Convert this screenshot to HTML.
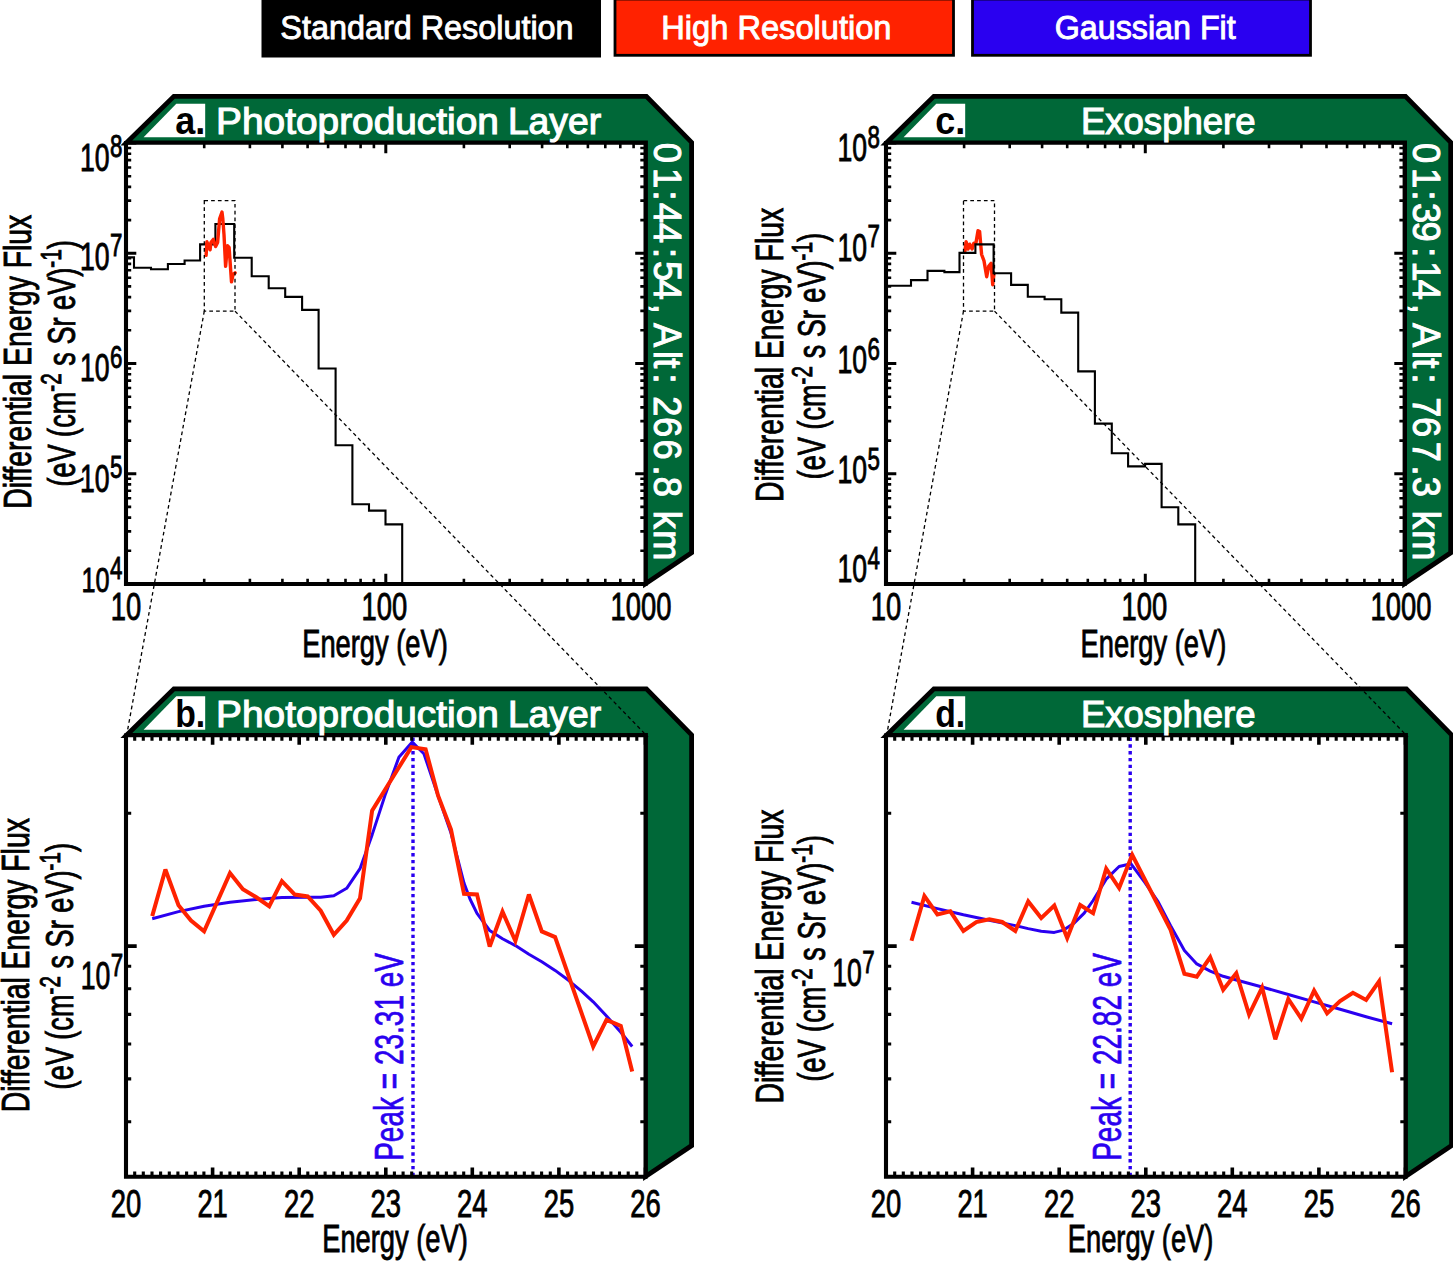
<!DOCTYPE html>
<html><head><meta charset="utf-8"><title>Differential Energy Flux</title>
<style>html,body{margin:0;padding:0;background:#fff}svg{display:block}text{font-family:"Liberation Sans",sans-serif}</style>
</head><body>
<svg width="1453" height="1261" viewBox="0 0 1453 1261">
<rect width="1453" height="1261" fill="#fff"/>
<rect x="261.5" y="-2" width="339.5" height="59.5" fill="#000"/>
<rect x="615" y="-1" width="338.5" height="56.3" fill="#FF2200" stroke="#000" stroke-width="2.8"/>
<rect x="972.5" y="-1" width="338" height="56.3" fill="#2A00F0" stroke="#000" stroke-width="2.8"/>
<text x="280.3" y="38.6" font-size="33" fill="#fff" stroke="#fff" stroke-width="0.9" textLength="293.3" lengthAdjust="spacingAndGlyphs">Standard Resolution</text>
<text x="661.3" y="38.6" font-size="33" fill="#fff" stroke="#fff" stroke-width="0.9" textLength="230.2" lengthAdjust="spacingAndGlyphs">High Resolution</text>
<text x="1054.8" y="38.6" font-size="33" fill="#fff" stroke="#fff" stroke-width="0.9" textLength="180.9" lengthAdjust="spacingAndGlyphs">Gaussian Fit</text>
<polygon points="126.3,143 173.9,96.4 646.4,96.4 691.6,142.4 691.6,552.8 645.5,583.8 645.5,143" fill="#006838" stroke="#000" stroke-width="4.8" stroke-linejoin="miter"/>
<rect x="126" y="143" width="519.5" height="441" fill="#fff"/>
<polygon points="886.3,143 933.9,96.4 1405.5,96.4 1450.7,142.4 1450.7,552.8 1404.6,583.8 1404.6,143" fill="#006838" stroke="#000" stroke-width="4.8" stroke-linejoin="miter"/>
<rect x="886" y="143" width="518.6" height="441" fill="#fff"/>
<polygon points="126.3,735.5 173.9,688.9 646.4,688.9 691.6,734.9 691.6,1145.6 645.5,1176.6 645.5,735.5" fill="#006838" stroke="#000" stroke-width="4.8" stroke-linejoin="miter"/>
<rect x="126" y="735.5" width="519.5" height="441.3" fill="#fff"/>
<polygon points="886.3,735.5 933.9,688.9 1406.4,688.9 1451.6,734.9 1451.6,1145.6 1405.5,1176.6 1405.5,735.5" fill="#006838" stroke="#000" stroke-width="4.8" stroke-linejoin="miter"/>
<rect x="886" y="735.5" width="519.5" height="441.3" fill="#fff"/>
<polyline points="126,257.4 134,257.4 134,267.8 151,267.8 151,269.2 167.9,269.2 167.9,264 184.6,264 184.6,260.5 200.1,260.5 200.1,244.4 215.4,244.4 215.4,224 234.2,224 234.2,257.8 251.7,257.8 251.7,276.2 268.7,276.2 268.7,288.2 285.2,288.2 285.2,296.9 302.1,296.9 302.1,309.9 318.6,309.9 318.6,368.5 335.6,368.5 335.6,445.3 352.4,445.3 352.4,504.2 369,504.2 369,510.6 385.5,510.6 385.5,524.4 402.2,524.4 402.2,584" fill="none" stroke="#000" stroke-width="2.1" stroke-linejoin="miter"/>
<path d="M1340 583.8H1404" stroke="#0d0050" stroke-width="2.6"/>
<polyline points="206.1,255.3 206.9,241.8 210.1,249.8 210.9,242.6 213.3,239.4 215.6,246.6 217.6,242.6 219.6,218.8 222,212.1 222.8,218.8 224,234.7 225.6,266.4 227.5,245.8 229.1,247.4 231.5,281.9 233.1,274.4 235.1,272.8" fill="none" stroke="#FF2200" stroke-width="3.4" stroke-linejoin="round" stroke-linecap="round"/>
<polyline points="964.9,251.3 966.1,241.8 968.1,249 969.7,244.2 972.1,249 973.7,243.4 976,242.6 978,230.7 979.6,231.5 981.6,254.5 984,260.9 986.7,276.7 988.7,266.4 991.1,263.3 992.7,284.7 993.9,274.4" fill="none" stroke="#FF2200" stroke-width="3.4" stroke-linejoin="round" stroke-linecap="round"/>
<polyline points="886,285.7 911,285.7 911,280.1 927.5,280.1 927.5,270.9 944.4,270.9 944.4,272.1 959.5,272.1 959.5,252.9 975.4,252.9 975.4,244.4 993.6,244.4 993.6,273.3 1011.1,273.3 1011.1,284.9 1027.8,284.9 1027.8,296.7 1044.6,296.7 1044.6,299.3 1061.3,299.3 1061.3,312.6 1078.2,312.6 1078.2,371.4 1094.9,371.4 1094.9,423.6 1111.8,423.6 1111.8,453.2 1128.1,453.2 1128.1,466.4 1145.1,466.4 1145.1,463.9 1161.6,463.9 1161.6,507.3 1178.3,507.3 1178.3,524.4 1195.2,524.4 1195.2,583 1212.8,583" fill="none" stroke="#000" stroke-width="2.1" stroke-linejoin="miter"/>
<path d="M413 737.5V1175.8" stroke="#2A00F0" stroke-width="3.4" stroke-dasharray="3.4 3.4" fill="none"/>
<polyline points="152.2,918.7 178.5,911.6 204.1,906.2 230,902.3 256.3,899.4 281.9,897.6 307.7,897.3 320.7,897.3 333.8,895.8 346.7,888.3 360,868.7 372.1,834.9 385.5,793.9 398.9,757.3 412.3,742.1 423.9,753.7 438.1,795.7 451,833.1 464,883.1 470,899 477,913.4 489.7,930.5 502.5,938.7 515.4,945.6 528.9,954.2 541.8,961.8 555.1,970.4 568.5,980.3 581.8,991.3 593.2,1001.8 606.5,1016 620.8,1032.2 632.2,1046.5" fill="none" stroke="#2A00F0" stroke-width="3" stroke-linejoin="round"/>
<polyline points="152.2,916.1 165.4,869.5 178.5,905.3 191,920.5 204.1,931.3 230,873.1 242.9,889.2 256.3,897.3 269.2,906.2 281.9,881.2 294.8,894.6 307.7,896.4 320.7,910.7 333.8,934.8 346.7,920.5 360,898.2 372.1,810.8 411.4,747.1 425.6,749.3 438.1,795.7 451,829.6 464,893.8 477,894.4 489.7,946.5 502.5,911.7 515.4,941 528.9,894.5 541.8,931.4 555.1,937.1 593.2,1046.5 606.5,1019.8 620.8,1025.9 632.2,1071.6" fill="none" stroke="#FF2200" stroke-width="4" stroke-linejoin="miter" stroke-miterlimit="3"/>
<text transform="translate(403.3 1160.8) rotate(-90) scale(0.7 1)" font-size="40" text-anchor="start" fill="#2A00F0" stroke="#2A00F0" stroke-width="0.7" >Peak = 23.31 eV</text>
<path d="M1130.2 737.5V1175.8" stroke="#2A00F0" stroke-width="3.4" stroke-dasharray="3.4 3.4" fill="none"/>
<polyline points="911.5,902.3 937.4,908.6 963.4,914.8 989.3,920.2 1015.3,925.6 1028.2,928.6 1041.2,931.3 1054.3,932.4 1063.6,930.1 1074.3,922.9 1084.2,913.1 1093.1,900.5 1106.2,879.1 1119.1,866.5 1131,863.8 1144.8,882.3 1158.2,901.9 1170.6,925.7 1184.4,950.5 1196.8,963.9 1210.2,971.1 1223.2,976.3 1236.3,980 1262.1,987 1288.3,994.5 1314.1,1001.9 1340.1,1009.3 1366.1,1016.8 1392.1,1023.8" fill="none" stroke="#2A00F0" stroke-width="3" stroke-linejoin="round"/>
<polyline points="911.5,940.8 924.4,896.1 937.4,914.5 950.3,911.3 963.4,931 976.3,922 989.3,919.3 1002.2,922 1015.3,931 1028.2,901.4 1041.2,918.1 1054.3,905.5 1067.2,938.1 1080.2,905 1093.1,913.1 1106.2,868.7 1119.1,888 1132.2,854.9 1170.6,929.8 1184.4,973.8 1196.8,976.7 1210.2,957.3 1223.2,989.7 1236.3,973.2 1249.1,1014.5 1262.1,987.6 1275.3,1039.3 1288.3,999 1301.3,1018.6 1314.1,990.7 1327.1,1013.4 1340.1,1001.1 1352.9,992.8 1366.1,1000 1379.1,981.4 1392.1,1072.3" fill="none" stroke="#FF2200" stroke-width="4" stroke-linejoin="miter" stroke-miterlimit="3"/>
<text transform="translate(1120.5 1160.8) rotate(-90) scale(0.7 1)" font-size="40" text-anchor="start" fill="#2A00F0" stroke="#2A00F0" stroke-width="0.7" >Peak = 22.82 eV</text>
<path d="M126 584v-10.3 M126 143v10.3 M385.8 584v-10.3 M385.8 143v10.3 M645.5 584v-10.3 M645.5 143v10.3 M126 584h10.3 M645.5 584h-10.3 M126 473.8h10.3 M645.5 473.8h-10.3 M126 363.5h10.3 M645.5 363.5h-10.3 M126 253.2h10.3 M645.5 253.2h-10.3 M126 143h10.3 M645.5 143h-10.3" stroke="#000" stroke-width="3" fill="none"/>
<path d="M204.2 584v-5.2 M204.2 143v5.2 M249.9 584v-5.2 M249.9 143v5.2 M282.4 584v-5.2 M282.4 143v5.2 M307.6 584v-5.2 M307.6 143v5.2 M328.1 584v-5.2 M328.1 143v5.2 M345.5 584v-5.2 M345.5 143v5.2 M360.6 584v-5.2 M360.6 143v5.2 M373.9 584v-5.2 M373.9 143v5.2 M463.9 584v-5.2 M463.9 143v5.2 M509.7 584v-5.2 M509.7 143v5.2 M542.1 584v-5.2 M542.1 143v5.2 M567.3 584v-5.2 M567.3 143v5.2 M587.9 584v-5.2 M587.9 143v5.2 M605.3 584v-5.2 M605.3 143v5.2 M620.3 584v-5.2 M620.3 143v5.2 M633.6 584v-5.2 M633.6 143v5.2 M126 550.8h5.2 M645.5 550.8h-5.2 M126 531.4h5.2 M645.5 531.4h-5.2 M126 517.6h5.2 M645.5 517.6h-5.2 M126 506.9h5.2 M645.5 506.9h-5.2 M126 498.2h5.2 M645.5 498.2h-5.2 M126 490.8h5.2 M645.5 490.8h-5.2 M126 484.4h5.2 M645.5 484.4h-5.2 M126 478.8h5.2 M645.5 478.8h-5.2 M126 440.6h5.2 M645.5 440.6h-5.2 M126 421.1h5.2 M645.5 421.1h-5.2 M126 407.4h5.2 M645.5 407.4h-5.2 M126 396.7h5.2 M645.5 396.7h-5.2 M126 388h5.2 M645.5 388h-5.2 M126 380.6h5.2 M645.5 380.6h-5.2 M126 374.2h5.2 M645.5 374.2h-5.2 M126 368.5h5.2 M645.5 368.5h-5.2 M126 330.3h5.2 M645.5 330.3h-5.2 M126 310.9h5.2 M645.5 310.9h-5.2 M126 297.1h5.2 M645.5 297.1h-5.2 M126 286.4h5.2 M645.5 286.4h-5.2 M126 277.7h5.2 M645.5 277.7h-5.2 M126 270.3h5.2 M645.5 270.3h-5.2 M126 263.9h5.2 M645.5 263.9h-5.2 M126 258.3h5.2 M645.5 258.3h-5.2 M126 220.1h5.2 M645.5 220.1h-5.2 M126 200.6h5.2 M645.5 200.6h-5.2 M126 186.9h5.2 M645.5 186.9h-5.2 M126 176.2h5.2 M645.5 176.2h-5.2 M126 167.5h5.2 M645.5 167.5h-5.2 M126 160.1h5.2 M645.5 160.1h-5.2 M126 153.7h5.2 M645.5 153.7h-5.2 M126 148h5.2 M645.5 148h-5.2" stroke="#000" stroke-width="2.6" fill="none"/>
<path d="M886 584v-10.3 M886 143v10.3 M1145.3 584v-10.3 M1145.3 143v10.3 M1404.6 584v-10.3 M1404.6 143v10.3 M886 584h10.3 M1404.6 584h-10.3 M886 473.8h10.3 M1404.6 473.8h-10.3 M886 363.5h10.3 M1404.6 363.5h-10.3 M886 253.2h10.3 M1404.6 253.2h-10.3 M886 143h10.3 M1404.6 143h-10.3" stroke="#000" stroke-width="3" fill="none"/>
<path d="M964.1 584v-5.2 M964.1 143v5.2 M1009.7 584v-5.2 M1009.7 143v5.2 M1042.1 584v-5.2 M1042.1 143v5.2 M1067.2 584v-5.2 M1067.2 143v5.2 M1087.8 584v-5.2 M1087.8 143v5.2 M1105.1 584v-5.2 M1105.1 143v5.2 M1120.2 584v-5.2 M1120.2 143v5.2 M1133.4 584v-5.2 M1133.4 143v5.2 M1223.4 584v-5.2 M1223.4 143v5.2 M1269 584v-5.2 M1269 143v5.2 M1301.4 584v-5.2 M1301.4 143v5.2 M1326.5 584v-5.2 M1326.5 143v5.2 M1347.1 584v-5.2 M1347.1 143v5.2 M1364.4 584v-5.2 M1364.4 143v5.2 M1379.5 584v-5.2 M1379.5 143v5.2 M1392.7 584v-5.2 M1392.7 143v5.2 M886 550.8h5.2 M1404.6 550.8h-5.2 M886 531.4h5.2 M1404.6 531.4h-5.2 M886 517.6h5.2 M1404.6 517.6h-5.2 M886 506.9h5.2 M1404.6 506.9h-5.2 M886 498.2h5.2 M1404.6 498.2h-5.2 M886 490.8h5.2 M1404.6 490.8h-5.2 M886 484.4h5.2 M1404.6 484.4h-5.2 M886 478.8h5.2 M1404.6 478.8h-5.2 M886 440.6h5.2 M1404.6 440.6h-5.2 M886 421.1h5.2 M1404.6 421.1h-5.2 M886 407.4h5.2 M1404.6 407.4h-5.2 M886 396.7h5.2 M1404.6 396.7h-5.2 M886 388h5.2 M1404.6 388h-5.2 M886 380.6h5.2 M1404.6 380.6h-5.2 M886 374.2h5.2 M1404.6 374.2h-5.2 M886 368.5h5.2 M1404.6 368.5h-5.2 M886 330.3h5.2 M1404.6 330.3h-5.2 M886 310.9h5.2 M1404.6 310.9h-5.2 M886 297.1h5.2 M1404.6 297.1h-5.2 M886 286.4h5.2 M1404.6 286.4h-5.2 M886 277.7h5.2 M1404.6 277.7h-5.2 M886 270.3h5.2 M1404.6 270.3h-5.2 M886 263.9h5.2 M1404.6 263.9h-5.2 M886 258.3h5.2 M1404.6 258.3h-5.2 M886 220.1h5.2 M1404.6 220.1h-5.2 M886 200.6h5.2 M1404.6 200.6h-5.2 M886 186.9h5.2 M1404.6 186.9h-5.2 M886 176.2h5.2 M1404.6 176.2h-5.2 M886 167.5h5.2 M1404.6 167.5h-5.2 M886 160.1h5.2 M1404.6 160.1h-5.2 M886 153.7h5.2 M1404.6 153.7h-5.2 M886 148h5.2 M1404.6 148h-5.2" stroke="#000" stroke-width="2.6" fill="none"/>
<path d="M126 1176.8v-9.3 M126 735.5v9.3 M212.6 1176.8v-9.3 M212.6 735.5v9.3 M299.2 1176.8v-9.3 M299.2 735.5v9.3 M385.8 1176.8v-9.3 M385.8 735.5v9.3 M472.3 1176.8v-9.3 M472.3 735.5v9.3 M558.9 1176.8v-9.3 M558.9 735.5v9.3 M645.5 1176.8v-9.3 M645.5 735.5v9.3 M126 946.1h10.7 M645.5 946.1h-10.7" stroke="#000" stroke-width="3.6" fill="none"/>
<path d="M134.7 1176.8v-5.2 M134.7 735.5v5.2 M143.3 1176.8v-5.2 M143.3 735.5v5.2 M152 1176.8v-5.2 M152 735.5v5.2 M160.6 1176.8v-5.2 M160.6 735.5v5.2 M169.3 1176.8v-5.2 M169.3 735.5v5.2 M177.9 1176.8v-5.2 M177.9 735.5v5.2 M186.6 1176.8v-5.2 M186.6 735.5v5.2 M195.3 1176.8v-5.2 M195.3 735.5v5.2 M203.9 1176.8v-5.2 M203.9 735.5v5.2 M221.2 1176.8v-5.2 M221.2 735.5v5.2 M229.9 1176.8v-5.2 M229.9 735.5v5.2 M238.6 1176.8v-5.2 M238.6 735.5v5.2 M247.2 1176.8v-5.2 M247.2 735.5v5.2 M255.9 1176.8v-5.2 M255.9 735.5v5.2 M264.5 1176.8v-5.2 M264.5 735.5v5.2 M273.2 1176.8v-5.2 M273.2 735.5v5.2 M281.9 1176.8v-5.2 M281.9 735.5v5.2 M290.5 1176.8v-5.2 M290.5 735.5v5.2 M307.8 1176.8v-5.2 M307.8 735.5v5.2 M316.5 1176.8v-5.2 M316.5 735.5v5.2 M325.1 1176.8v-5.2 M325.1 735.5v5.2 M333.8 1176.8v-5.2 M333.8 735.5v5.2 M342.5 1176.8v-5.2 M342.5 735.5v5.2 M351.1 1176.8v-5.2 M351.1 735.5v5.2 M359.8 1176.8v-5.2 M359.8 735.5v5.2 M368.4 1176.8v-5.2 M368.4 735.5v5.2 M377.1 1176.8v-5.2 M377.1 735.5v5.2 M394.4 1176.8v-5.2 M394.4 735.5v5.2 M403.1 1176.8v-5.2 M403.1 735.5v5.2 M411.7 1176.8v-5.2 M411.7 735.5v5.2 M420.4 1176.8v-5.2 M420.4 735.5v5.2 M429 1176.8v-5.2 M429 735.5v5.2 M437.7 1176.8v-5.2 M437.7 735.5v5.2 M446.4 1176.8v-5.2 M446.4 735.5v5.2 M455 1176.8v-5.2 M455 735.5v5.2 M463.7 1176.8v-5.2 M463.7 735.5v5.2 M481 1176.8v-5.2 M481 735.5v5.2 M489.6 1176.8v-5.2 M489.6 735.5v5.2 M498.3 1176.8v-5.2 M498.3 735.5v5.2 M507 1176.8v-5.2 M507 735.5v5.2 M515.6 1176.8v-5.2 M515.6 735.5v5.2 M524.3 1176.8v-5.2 M524.3 735.5v5.2 M532.9 1176.8v-5.2 M532.9 735.5v5.2 M541.6 1176.8v-5.2 M541.6 735.5v5.2 M550.3 1176.8v-5.2 M550.3 735.5v5.2 M567.6 1176.8v-5.2 M567.6 735.5v5.2 M576.2 1176.8v-5.2 M576.2 735.5v5.2 M584.9 1176.8v-5.2 M584.9 735.5v5.2 M593.5 1176.8v-5.2 M593.5 735.5v5.2 M602.2 1176.8v-5.2 M602.2 735.5v5.2 M610.9 1176.8v-5.2 M610.9 735.5v5.2 M619.5 1176.8v-5.2 M619.5 735.5v5.2 M628.2 1176.8v-5.2 M628.2 735.5v5.2 M636.8 1176.8v-5.2 M636.8 735.5v5.2 M126 813.2h5.2 M645.5 813.2h-5.2 M126 966.2h5.2 M645.5 966.2h-5.2 M126 988.8h5.2 M645.5 988.8h-5.2 M126 1014.4h5.2 M645.5 1014.4h-5.2 M126 1044h5.2 M645.5 1044h-5.2 M126 1078.9h5.2 M645.5 1078.9h-5.2 M126 1121.7h5.2 M645.5 1121.7h-5.2" stroke="#000" stroke-width="3.1" fill="none"/>
<path d="M886 1176.8v-9.3 M886 735.5v9.3 M972.6 1176.8v-9.3 M972.6 735.5v9.3 M1059.2 1176.8v-9.3 M1059.2 735.5v9.3 M1145.8 1176.8v-9.3 M1145.8 735.5v9.3 M1232.3 1176.8v-9.3 M1232.3 735.5v9.3 M1318.9 1176.8v-9.3 M1318.9 735.5v9.3 M1405.5 1176.8v-9.3 M1405.5 735.5v9.3 M886 946.1h10.7 M1405.5 946.1h-10.7" stroke="#000" stroke-width="3.6" fill="none"/>
<path d="M894.7 1176.8v-5.2 M894.7 735.5v5.2 M903.3 1176.8v-5.2 M903.3 735.5v5.2 M912 1176.8v-5.2 M912 735.5v5.2 M920.6 1176.8v-5.2 M920.6 735.5v5.2 M929.3 1176.8v-5.2 M929.3 735.5v5.2 M938 1176.8v-5.2 M938 735.5v5.2 M946.6 1176.8v-5.2 M946.6 735.5v5.2 M955.3 1176.8v-5.2 M955.3 735.5v5.2 M963.9 1176.8v-5.2 M963.9 735.5v5.2 M981.2 1176.8v-5.2 M981.2 735.5v5.2 M989.9 1176.8v-5.2 M989.9 735.5v5.2 M998.6 1176.8v-5.2 M998.6 735.5v5.2 M1007.2 1176.8v-5.2 M1007.2 735.5v5.2 M1015.9 1176.8v-5.2 M1015.9 735.5v5.2 M1024.5 1176.8v-5.2 M1024.5 735.5v5.2 M1033.2 1176.8v-5.2 M1033.2 735.5v5.2 M1041.8 1176.8v-5.2 M1041.8 735.5v5.2 M1050.5 1176.8v-5.2 M1050.5 735.5v5.2 M1067.8 1176.8v-5.2 M1067.8 735.5v5.2 M1076.5 1176.8v-5.2 M1076.5 735.5v5.2 M1085.1 1176.8v-5.2 M1085.1 735.5v5.2 M1093.8 1176.8v-5.2 M1093.8 735.5v5.2 M1102.5 1176.8v-5.2 M1102.5 735.5v5.2 M1111.1 1176.8v-5.2 M1111.1 735.5v5.2 M1119.8 1176.8v-5.2 M1119.8 735.5v5.2 M1128.4 1176.8v-5.2 M1128.4 735.5v5.2 M1137.1 1176.8v-5.2 M1137.1 735.5v5.2 M1154.4 1176.8v-5.2 M1154.4 735.5v5.2 M1163.1 1176.8v-5.2 M1163.1 735.5v5.2 M1171.7 1176.8v-5.2 M1171.7 735.5v5.2 M1180.4 1176.8v-5.2 M1180.4 735.5v5.2 M1189 1176.8v-5.2 M1189 735.5v5.2 M1197.7 1176.8v-5.2 M1197.7 735.5v5.2 M1206.4 1176.8v-5.2 M1206.4 735.5v5.2 M1215 1176.8v-5.2 M1215 735.5v5.2 M1223.7 1176.8v-5.2 M1223.7 735.5v5.2 M1241 1176.8v-5.2 M1241 735.5v5.2 M1249.7 1176.8v-5.2 M1249.7 735.5v5.2 M1258.3 1176.8v-5.2 M1258.3 735.5v5.2 M1267 1176.8v-5.2 M1267 735.5v5.2 M1275.6 1176.8v-5.2 M1275.6 735.5v5.2 M1284.3 1176.8v-5.2 M1284.3 735.5v5.2 M1292.9 1176.8v-5.2 M1292.9 735.5v5.2 M1301.6 1176.8v-5.2 M1301.6 735.5v5.2 M1310.3 1176.8v-5.2 M1310.3 735.5v5.2 M1327.6 1176.8v-5.2 M1327.6 735.5v5.2 M1336.2 1176.8v-5.2 M1336.2 735.5v5.2 M1344.9 1176.8v-5.2 M1344.9 735.5v5.2 M1353.5 1176.8v-5.2 M1353.5 735.5v5.2 M1362.2 1176.8v-5.2 M1362.2 735.5v5.2 M1370.9 1176.8v-5.2 M1370.9 735.5v5.2 M1379.5 1176.8v-5.2 M1379.5 735.5v5.2 M1388.2 1176.8v-5.2 M1388.2 735.5v5.2 M1396.8 1176.8v-5.2 M1396.8 735.5v5.2 M886 813.2h5.2 M1405.5 813.2h-5.2 M886 966.2h5.2 M1405.5 966.2h-5.2 M886 988.8h5.2 M1405.5 988.8h-5.2 M886 1014.4h5.2 M1405.5 1014.4h-5.2 M886 1044h5.2 M1405.5 1044h-5.2 M886 1078.9h5.2 M1405.5 1078.9h-5.2 M886 1121.7h5.2 M1405.5 1121.7h-5.2" stroke="#000" stroke-width="3.1" fill="none"/>
<path d="M126 143V584H645.5" fill="none" stroke="#000" stroke-width="4.1" stroke-linecap="square"/>
<path d="M126 143H645.2V584" fill="none" stroke="#000" stroke-width="3.4" stroke-linecap="square"/>
<path d="M886 143V584H1404.6" fill="none" stroke="#000" stroke-width="4.1" stroke-linecap="square"/>
<path d="M886 143H1404.3V584" fill="none" stroke="#000" stroke-width="3.4" stroke-linecap="square"/>
<path d="M126 735.5V1176.8H645.5" fill="none" stroke="#000" stroke-width="4.1" stroke-linecap="square"/>
<path d="M126 735.5H645.2V1176.8" fill="none" stroke="#000" stroke-width="3.4" stroke-linecap="square"/>
<path d="M886 735.5V1176.8H1405.5" fill="none" stroke="#000" stroke-width="4.1" stroke-linecap="square"/>
<path d="M886 735.5H1405.2V1176.8" fill="none" stroke="#000" stroke-width="3.4" stroke-linecap="square"/>
<polygon points="143.6,137.2 176.3,103.7 205.2,103.7 205.2,137.2" fill="#fff"/>
<text x="205.2" y="134.1" font-size="38.5" font-weight="bold" fill="#000" text-anchor="end" textLength="30" lengthAdjust="spacingAndGlyphs">a.</text>
<text x="216.1" y="134.1" font-size="36.5" fill="#fff" stroke="#fff" stroke-width="1.1" textLength="282.8" lengthAdjust="spacingAndGlyphs">Photoproduction</text>
<text x="507.9" y="134.1" font-size="36.5" fill="#fff" stroke="#fff" stroke-width="1.1" textLength="93.2" lengthAdjust="spacingAndGlyphs">Layer</text>
<polygon points="903.6,137.2 936.3,103.7 965.2,103.7 965.2,137.2" fill="#fff"/>
<text x="965.2" y="134.1" font-size="38.5" font-weight="bold" fill="#000" text-anchor="end" textLength="30" lengthAdjust="spacingAndGlyphs">c.</text>
<text x="1080.9" y="134.1" font-size="36.5" fill="#fff" stroke="#fff" stroke-width="1.1" textLength="174.7" lengthAdjust="spacingAndGlyphs">Exosphere</text>
<polygon points="143.6,729.7 176.3,696.2 205.2,696.2 205.2,729.7" fill="#fff"/>
<text x="205.2" y="726.6" font-size="38.5" font-weight="bold" fill="#000" text-anchor="end" textLength="30" lengthAdjust="spacingAndGlyphs">b.</text>
<text x="216.1" y="726.6" font-size="36.5" fill="#fff" stroke="#fff" stroke-width="1.1" textLength="282.8" lengthAdjust="spacingAndGlyphs">Photoproduction</text>
<text x="507.9" y="726.6" font-size="36.5" fill="#fff" stroke="#fff" stroke-width="1.1" textLength="93.2" lengthAdjust="spacingAndGlyphs">Layer</text>
<polygon points="903.6,729.7 936.3,696.2 965.2,696.2 965.2,729.7" fill="#fff"/>
<text x="965.2" y="726.6" font-size="38.5" font-weight="bold" fill="#000" text-anchor="end" textLength="30" lengthAdjust="spacingAndGlyphs">d.</text>
<text x="1080.9" y="726.6" font-size="36.5" fill="#fff" stroke="#fff" stroke-width="1.1" textLength="174.7" lengthAdjust="spacingAndGlyphs">Exosphere</text>
<text transform="translate(653.7 0) rotate(90) scale(0.92 1)" font-size="39.5" fill="#fff" stroke="#fff" stroke-width="1.0" y="0" x="155.1 182.6 207.1 220.7 242.4 269.6 283.7 304 330.1 352.1 351.2 381.4 389.3 406.1 428 430.8 453.2 477.8 505.9 518.2 540.1 555.1 576.4">01:44:54, Alt: 266.8 km</text>
<text transform="translate(1412.8 0) rotate(90) scale(0.92 1)" font-size="39.5" fill="#fff" stroke="#fff" stroke-width="1.0" y="0" x="155.4 182.6 207.1 220.7 240.7 268.7 284.1 304 330.3 352.3 351.2 381.4 389.3 406.1 428 431.8 453.2 480.1 505.9 518.2 540.1 555.1 576.4">01:39:14, Alt: 767.3 km</text>
<text transform="translate(109.5 170.6) scale(0.7 1)" font-size="38" text-anchor="end" fill="#000" stroke="#000" stroke-width="0.9" >10</text>
<text transform="translate(109.9 157.4) scale(0.72 1)" font-size="31" text-anchor="start" fill="#000" stroke="#000" stroke-width="0.9" >8</text>
<text transform="translate(109.5 269.5) scale(0.7 1)" font-size="38" text-anchor="end" fill="#000" stroke="#000" stroke-width="0.9" >10</text>
<text transform="translate(109.9 256.3) scale(0.72 1)" font-size="31" text-anchor="start" fill="#000" stroke="#000" stroke-width="0.9" >7</text>
<text transform="translate(109.5 381) scale(0.7 1)" font-size="38" text-anchor="end" fill="#000" stroke="#000" stroke-width="0.9" >10</text>
<text transform="translate(109.9 367.8) scale(0.72 1)" font-size="31" text-anchor="start" fill="#000" stroke="#000" stroke-width="0.9" >6</text>
<text transform="translate(109.5 491.5) scale(0.7 1)" font-size="38" text-anchor="end" fill="#000" stroke="#000" stroke-width="0.9" >10</text>
<text transform="translate(109.9 478.3) scale(0.72 1)" font-size="31" text-anchor="start" fill="#000" stroke="#000" stroke-width="0.9" >5</text>
<text transform="translate(109.5 591.8) scale(0.7 1)" font-size="36" text-anchor="end" fill="#000" stroke="#000" stroke-width="0.9" >10</text>
<text transform="translate(109.9 578.6) scale(0.72 1)" font-size="31" text-anchor="start" fill="#000" stroke="#000" stroke-width="0.9" >4</text>
<text transform="translate(867 161) scale(0.7 1)" font-size="38" text-anchor="end" fill="#000" stroke="#000" stroke-width="0.9" >10</text>
<text transform="translate(867.4 147.8) scale(0.72 1)" font-size="31" text-anchor="start" fill="#000" stroke="#000" stroke-width="0.9" >8</text>
<text transform="translate(867 260.5) scale(0.7 1)" font-size="38" text-anchor="end" fill="#000" stroke="#000" stroke-width="0.9" >10</text>
<text transform="translate(867.4 247.3) scale(0.72 1)" font-size="31" text-anchor="start" fill="#000" stroke="#000" stroke-width="0.9" >7</text>
<text transform="translate(867 372.9) scale(0.7 1)" font-size="38" text-anchor="end" fill="#000" stroke="#000" stroke-width="0.9" >10</text>
<text transform="translate(867.4 359.7) scale(0.72 1)" font-size="31" text-anchor="start" fill="#000" stroke="#000" stroke-width="0.9" >6</text>
<text transform="translate(867 482.7) scale(0.7 1)" font-size="38" text-anchor="end" fill="#000" stroke="#000" stroke-width="0.9" >10</text>
<text transform="translate(867.4 469.5) scale(0.72 1)" font-size="31" text-anchor="start" fill="#000" stroke="#000" stroke-width="0.9" >5</text>
<text transform="translate(867 582.4) scale(0.7 1)" font-size="38" text-anchor="end" fill="#000" stroke="#000" stroke-width="0.9" >10</text>
<text transform="translate(867.4 569.2) scale(0.72 1)" font-size="31" text-anchor="start" fill="#000" stroke="#000" stroke-width="0.9" >4</text>
<text transform="translate(110.4 988.8) scale(0.7 1)" font-size="38" text-anchor="end" fill="#000" stroke="#000" stroke-width="0.9" >10</text>
<text transform="translate(110.8 975.6) scale(0.72 1)" font-size="31" text-anchor="start" fill="#000" stroke="#000" stroke-width="0.9" >7</text>
<text transform="translate(861.8 986) scale(0.7 1)" font-size="38" text-anchor="end" fill="#000" stroke="#000" stroke-width="0.9" >10</text>
<text transform="translate(862.2 972.8) scale(0.72 1)" font-size="31" text-anchor="start" fill="#000" stroke="#000" stroke-width="0.9" >7</text>
<text transform="translate(126 619.6) scale(0.72 1)" font-size="38" text-anchor="middle" fill="#000" stroke="#000" stroke-width="0.9" >10</text>
<text transform="translate(384.3 619.6) scale(0.72 1)" font-size="38" text-anchor="middle" fill="#000" stroke="#000" stroke-width="0.9" >100</text>
<text transform="translate(641 619.6) scale(0.72 1)" font-size="38" text-anchor="middle" fill="#000" stroke="#000" stroke-width="0.9" >1000</text>
<text transform="translate(126 1217.4) scale(0.72 1)" font-size="38" text-anchor="middle" fill="#000" stroke="#000" stroke-width="0.9" >20</text>
<text transform="translate(212.6 1217.4) scale(0.72 1)" font-size="38" text-anchor="middle" fill="#000" stroke="#000" stroke-width="0.9" >21</text>
<text transform="translate(299.2 1217.4) scale(0.72 1)" font-size="38" text-anchor="middle" fill="#000" stroke="#000" stroke-width="0.9" >22</text>
<text transform="translate(385.7 1217.4) scale(0.72 1)" font-size="38" text-anchor="middle" fill="#000" stroke="#000" stroke-width="0.9" >23</text>
<text transform="translate(472.3 1217.4) scale(0.72 1)" font-size="38" text-anchor="middle" fill="#000" stroke="#000" stroke-width="0.9" >24</text>
<text transform="translate(558.9 1217.4) scale(0.72 1)" font-size="38" text-anchor="middle" fill="#000" stroke="#000" stroke-width="0.9" >25</text>
<text transform="translate(645.5 1217.4) scale(0.72 1)" font-size="38" text-anchor="middle" fill="#000" stroke="#000" stroke-width="0.9" >26</text>
<text transform="translate(886 619.6) scale(0.72 1)" font-size="38" text-anchor="middle" fill="#000" stroke="#000" stroke-width="0.9" >10</text>
<text transform="translate(1144.3 619.6) scale(0.72 1)" font-size="38" text-anchor="middle" fill="#000" stroke="#000" stroke-width="0.9" >100</text>
<text transform="translate(1401 619.6) scale(0.72 1)" font-size="38" text-anchor="middle" fill="#000" stroke="#000" stroke-width="0.9" >1000</text>
<text transform="translate(886 1217.4) scale(0.72 1)" font-size="38" text-anchor="middle" fill="#000" stroke="#000" stroke-width="0.9" >20</text>
<text transform="translate(972.6 1217.4) scale(0.72 1)" font-size="38" text-anchor="middle" fill="#000" stroke="#000" stroke-width="0.9" >21</text>
<text transform="translate(1059.2 1217.4) scale(0.72 1)" font-size="38" text-anchor="middle" fill="#000" stroke="#000" stroke-width="0.9" >22</text>
<text transform="translate(1145.7 1217.4) scale(0.72 1)" font-size="38" text-anchor="middle" fill="#000" stroke="#000" stroke-width="0.9" >23</text>
<text transform="translate(1232.3 1217.4) scale(0.72 1)" font-size="38" text-anchor="middle" fill="#000" stroke="#000" stroke-width="0.9" >24</text>
<text transform="translate(1318.9 1217.4) scale(0.72 1)" font-size="38" text-anchor="middle" fill="#000" stroke="#000" stroke-width="0.9" >25</text>
<text transform="translate(1405.5 1217.4) scale(0.72 1)" font-size="38" text-anchor="middle" fill="#000" stroke="#000" stroke-width="0.9" >26</text>
<text transform="translate(375 657.1) scale(0.7 1)" font-size="39" text-anchor="middle" fill="#000" stroke="#000" stroke-width="0.9" >Energy (eV)</text>
<text transform="translate(1153.4 657.1) scale(0.7 1)" font-size="39" text-anchor="middle" fill="#000" stroke="#000" stroke-width="0.9" >Energy (eV)</text>
<text transform="translate(395 1251.5) scale(0.7 1)" font-size="39" text-anchor="middle" fill="#000" stroke="#000" stroke-width="0.9" >Energy (eV)</text>
<text transform="translate(1140.6 1251.5) scale(0.7 1)" font-size="39" text-anchor="middle" fill="#000" stroke="#000" stroke-width="0.9" >Energy (eV)</text>
<text transform="translate(30.6 361.8) rotate(-90) scale(0.727 1)" font-size="39" text-anchor="middle" fill="#000" stroke="#000" stroke-width="0.9" >Differential Energy Flux</text>
<text transform="translate(74.7 363.4) rotate(-90) scale(0.695 1)" font-size="39" text-anchor="middle" fill="#000" stroke="#000" stroke-width="0.9" >(eV (cm<tspan font-size="30" dy="-13.5">-2</tspan><tspan dy="13.5"> s Sr eV)</tspan><tspan font-size="30" dy="-13.5">-1</tspan><tspan dy="13.5">)</tspan></text>
<text transform="translate(783.3 354.9) rotate(-90) scale(0.727 1)" font-size="39" text-anchor="middle" fill="#000" stroke="#000" stroke-width="0.9" >Differential Energy Flux</text>
<text transform="translate(825.3 356.1) rotate(-90) scale(0.695 1)" font-size="39" text-anchor="middle" fill="#000" stroke="#000" stroke-width="0.9" >(eV (cm<tspan font-size="30" dy="-13.5">-2</tspan><tspan dy="13.5"> s Sr eV)</tspan><tspan font-size="30" dy="-13.5">-1</tspan><tspan dy="13.5">)</tspan></text>
<text transform="translate(29.2 965.2) rotate(-90) scale(0.727 1)" font-size="39" text-anchor="middle" fill="#000" stroke="#000" stroke-width="0.9" >Differential Energy Flux</text>
<text transform="translate(73.1 966.2) rotate(-90) scale(0.695 1)" font-size="39" text-anchor="middle" fill="#000" stroke="#000" stroke-width="0.9" >(eV (cm<tspan font-size="30" dy="-13.5">-2</tspan><tspan dy="13.5"> s Sr eV)</tspan><tspan font-size="30" dy="-13.5">-1</tspan><tspan dy="13.5">)</tspan></text>
<text transform="translate(783.3 956.5) rotate(-90) scale(0.727 1)" font-size="39" text-anchor="middle" fill="#000" stroke="#000" stroke-width="0.9" >Differential Energy Flux</text>
<text transform="translate(825.3 958.4) rotate(-90) scale(0.695 1)" font-size="39" text-anchor="middle" fill="#000" stroke="#000" stroke-width="0.9" >(eV (cm<tspan font-size="30" dy="-13.5">-2</tspan><tspan dy="13.5"> s Sr eV)</tspan><tspan font-size="30" dy="-13.5">-1</tspan><tspan dy="13.5">)</tspan></text>
<rect x="204.3" y="200.6" width="30.7" height="110.5" stroke="#000" stroke-width="1.3" stroke-dasharray="3.7 3.1" fill="none"/>
<rect x="963.5" y="200.6" width="31" height="110.5" stroke="#000" stroke-width="1.3" stroke-dasharray="3.7 3.1" fill="none"/>
<path d="M204.3 311.1L126.6 735.5M235 311.1L648 737M963.5 311.1L886.6 735.5M994.5 311.1L1408 737" stroke="#000" stroke-width="1.3" stroke-dasharray="3.7 3.1" fill="none"/>
</svg>
</body></html>
